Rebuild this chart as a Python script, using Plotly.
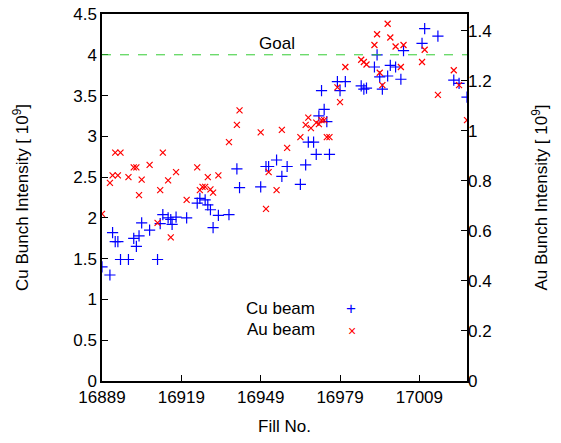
import plotly.graph_objects as go

cu_fill = [17011,17016,17010,17003,16993,16992,16998,17000,16994,16997,16995,17002,16987,16988,16989,
           16978,16981,16979,16972,16973,16971,16974,16967,16969,16970,16975,16966,16964,16959,16957,
           16955,16951,16952,16949,16940,16941,17022,17024,17027,
           16889,16892,16893,16894,16895,16896,16899,16901,16902,16903,16904,16907,16910,16911,16912,
           16914,16915,16915.5,16917,16921,16925,16926,16928,16929,16930,16931,16933,16937]
cu_val = [4.32,4.23,4.14,4.05,4.0,3.85,3.87,3.85,3.73,3.74,3.58,3.70,3.62,3.58,3.59,
          3.67,3.67,3.56,3.56,3.33,3.25,3.18,2.93,2.93,2.78,2.78,2.65,2.41,2.63,2.51,
          2.71,2.63,2.63,2.38,2.6,2.37,3.69,3.65,3.48,
          1.40,1.30,1.82,1.71,1.71,1.49,1.49,1.75,1.65,1.78,1.94,1.85,1.49,1.93,2.04,
          2.0,1.98,1.92,2.01,2.0,2.18,2.24,2.22,2.16,2.1,1.88,2.03,2.04]

au_fill = [16997,16993,16998,16992,17000,17003,17011,17010,16987,16988,16989,16994,16995,17002,16981,
           16978,16979,17022,17024,17016,17027,16972,16971,16967,16966,16968,16970,16973,16974,16975,
           16964,16959,16957,16949,16952,16955,16941,16940,16937,16933,16931,16930,16929,16928,16927,
           16926,16925,16921,16917,16914,16912,16911,16907,16904,16903,16902,16901,16899,16896,16894,
           16895,16893,16892,16889,16910,16915,16951]
au_val = [1.428,1.386,1.373,1.343,1.337,1.343,1.324,1.275,1.284,1.275,1.265,1.232,1.183,1.255,1.255,
          1.174,1.115,1.242,1.183,1.144,1.043,1.043,1.027,1.053,1.024,1.011,1.033,1.043,0.975,0.975,
          0.975,0.932,1.004,0.994,0.835,0.763,1.082,1.024,0.955,0.822,0.753,0.766,0.815,0.776,0.776,
          0.763,0.854,0.724,0.835,0.802,0.913,0.763,0.864,0.805,0.743,0.854,0.854,0.815,0.913,0.913,
          0.822,0.822,0.792,0.668,0.632,0.574,0.688]

goal = 4.0
x_ticks = [16889, 16919, 16949, 16979, 17009]
y_ticks = [0, 0.5, 1, 1.5, 2, 2.5, 3, 3.5, 4, 4.5]
y2_ticks = [0, 0.2, 0.4, 0.6, 0.8, 1, 1.2, 1.4]

font = "Liberation Sans, Arial, sans-serif"
FS = 17
fig = go.Figure()
fig.add_trace(go.Scatter(x=cu_fill, y=cu_val, mode="markers", name="Cu beam",
                         marker=dict(symbol="cross-thin-open", size=8, color="#0000ff",
                                     line=dict(width=1.2, color="#0000ff"))))
fig.add_trace(go.Scatter(x=au_fill, y=au_val, mode="markers", name="Au beam", yaxis="y2",
                         marker=dict(symbol="x-thin-open", size=6, color="#ff0000",
                                     line=dict(width=1.2, color="#ff0000"))))
fig.add_shape(type="line", xref="paper", x0=0, x1=1, y0=goal, y1=goal,
              line=dict(color="#33cc33", width=1, dash="dash"))
fig.add_annotation(x=16955, y=goal, text="Goal", showarrow=False, yanchor="bottom",
                   font=dict(size=FS, color="black"))
for i, (t, s, c) in enumerate([("Cu beam", "+", "#0000ff"), ("Au beam", "×", "#ff0000")]):
    fig.add_annotation(xref="paper", yref="paper", x=0.59, y=0.165 - i*0.055, text=t,
                       showarrow=False, xanchor="right", font=dict(size=FS, color="black"))
    fig.add_annotation(xref="paper", yref="paper", x=0.70, y=0.165 - i*0.055, text=s,
                       showarrow=False, font=dict(size=FS if s == "+" else 14, color=c))

axcommon = dict(showgrid=False, zeroline=False, showline=True, mirror=True, linecolor="black",
                linewidth=1.5, ticks="inside", ticklen=6, tickcolor="black",
                tickfont=dict(size=FS, color="black"), automargin=False, ticklabeloverflow="allow")
fig.update_layout(
    width=561, height=443, margin=dict(l=94, r=102, t=6, b=70),
    plot_bgcolor="white", paper_bgcolor="white", showlegend=False,
    font=dict(family=font, color="black"),
    xaxis=dict(range=[16889, 17027], tickvals=x_ticks, tickformat="d",
               title=dict(text="Fill No.", font=dict(size=FS), standoff=14), **axcommon),
    yaxis=dict(range=[0, 4.5001], tickvals=y_ticks, ticktext=[f"{v:g}" for v in y_ticks],
               title=dict(text="Cu Bunch Intensity [ 10<sup>9</sup>]", font=dict(size=FS), standoff=40), **axcommon),
    yaxis2=dict(range=[0, 1.467], tickvals=y2_ticks, ticktext=[f"{v:g}" for v in y2_ticks],
                overlaying="y", side="right", automargin=False, ticklabeloverflow="allow",
                title=dict(text="Au Bunch Intensity [ 10<sup>9</sup>]", font=dict(size=FS), standoff=44),
                showgrid=False, zeroline=False, ticks="inside", ticklen=6, tickcolor="black",
                tickfont=dict(size=FS, color="black")),
)
fig.write_html("out.html")
